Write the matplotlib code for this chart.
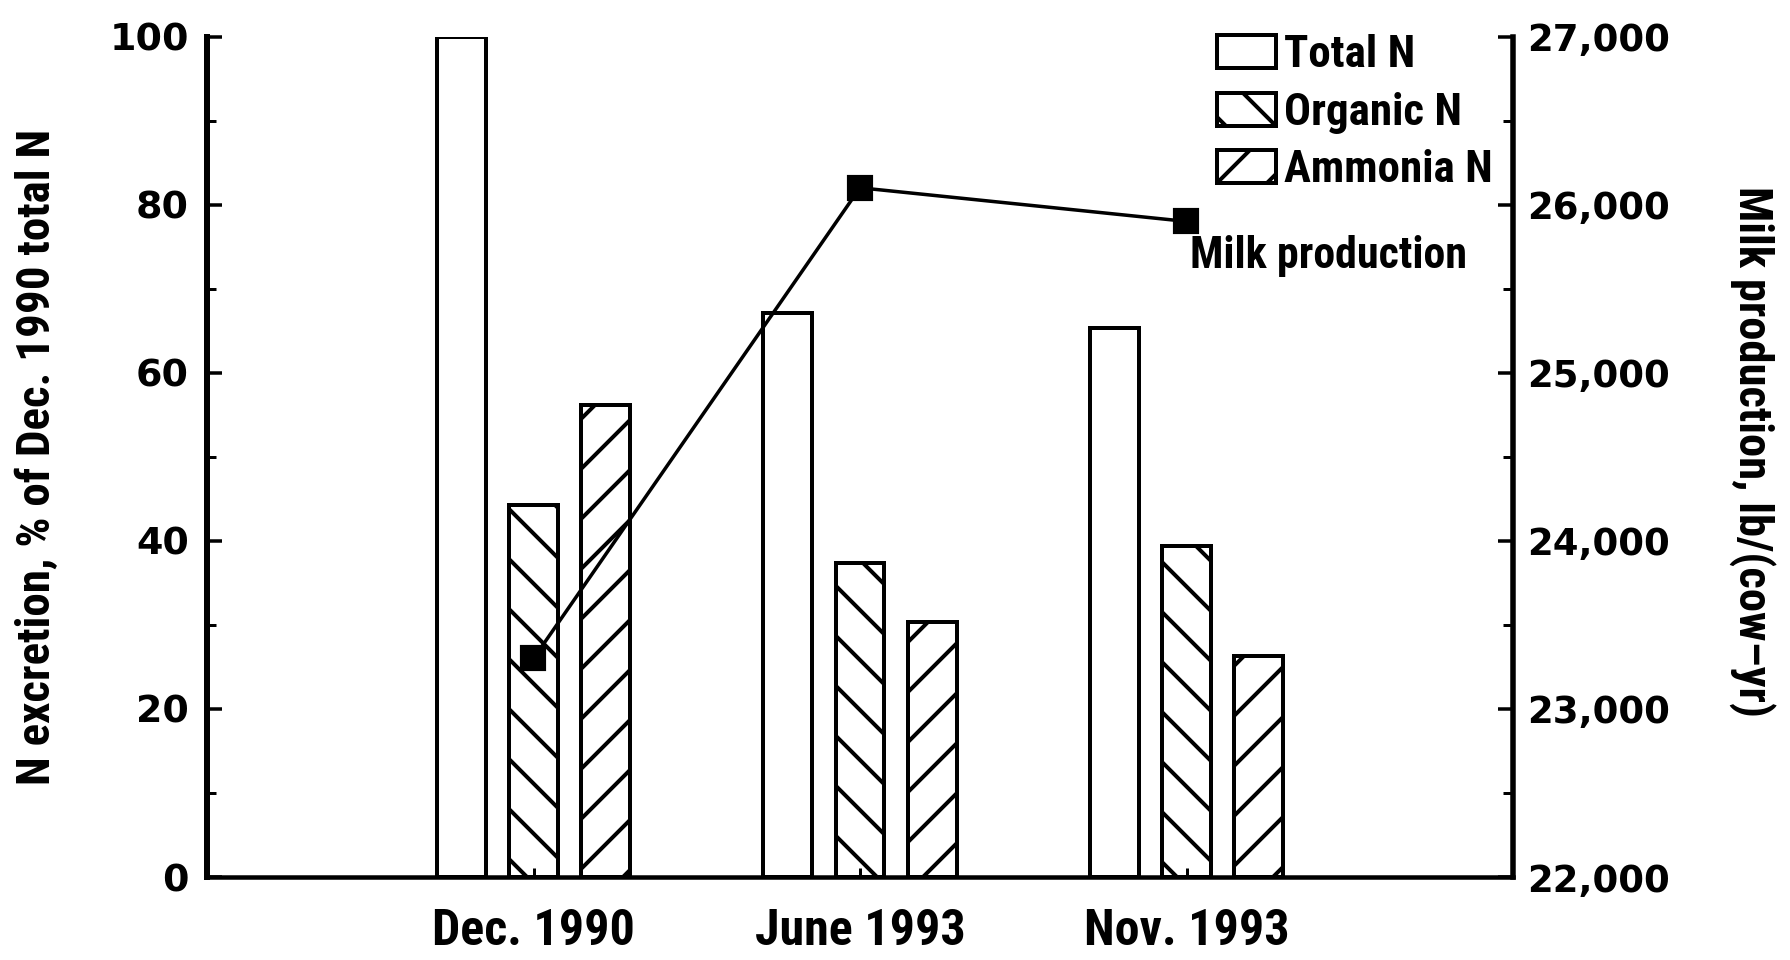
import numpy as np
import matplotlib
matplotlib.use("Agg")
import matplotlib.pyplot as plt
from matplotlib import font_manager as fm
from matplotlib.ticker import MultipleLocator, FuncFormatter

# ---- data ----
categories = ['Dec. 1990', 'June 1993', 'Nov. 1993']
total_n = [100, 67.1, 65.3]
organic_n = [44.2, 37.4, 39.4]
ammonia_n = [56.2, 30.3, 26.3]
milk = [23300, 26100, 25900]
series_labels = ['Total N', 'Organic N', 'Ammonia N']
left_ticks = [0, 20, 40, 60, 80, 100]
right_ticks = [22000, 23000, 24000, 25000, 26000, 27000]

DPI = 300
def P(px):
    return px * 72.0 / DPI

plt.rcParams['hatch.linewidth'] = P(4)
plt.rcParams['hatch.color'] = 'black'

NUM_FONT = 'DejaVu Sans'

# pick a condensed/narrow bold face if one is installed
def _is_bold(f):
    w = f.weight
    if isinstance(w, str):
        return w.lower() in ('bold', 'heavy', 'black', 'demibold', 'semibold', 'extra bold', 'ultrabold')
    return w >= 600

def _narrow(f):
    n = f.name.lower()
    s = str(f.stretch).lower()
    fn = f.fname.lower()
    return ('narrow' in n or 'condensed' in n or 'condensed' in s or 'narrow' in s
            or 'condensed' in fn or 'narrow' in fn)

_cands = [f for f in fm.fontManager.ttflist if _is_bold(f) and _narrow(f)
          and 'italic' not in f.fname.lower() and 'oblique' not in f.fname.lower()]
_pref = ['liberation sans narrow', 'roboto condensed', 'dejavu sans', 'open sans', 'noto sans']
_cands.sort(key=lambda f: next((i for i, p in enumerate(_pref) if p in f.name.lower()), 99))
if _cands:
    def TF(size):
        return fm.FontProperties(fname=_cands[0].fname, size=size)
else:
    def TF(size):
        return fm.FontProperties(family='Liberation Sans', weight='bold', size=size * 0.88)

fig = plt.figure(figsize=(1790 / DPI, 960 / DPI), dpi=DPI)
ax = fig.add_axes([207 / 1790, 1 - 877 / 960, (1513 - 207) / 1790, (877 - 36.5) / 960])

x = np.arange(len(categories))
w = 0.15
off = 0.222
bar_kw = dict(width=w, facecolor='white', edgecolor='black', linewidth=P(4))
b1 = ax.bar(x - off, total_n, label=series_labels[0], **bar_kw)
b2 = ax.bar(x, organic_n, hatch='\\\\', label=series_labels[1], **bar_kw)
b3 = ax.bar(x + off, ammonia_n, hatch='//', label=series_labels[2], **bar_kw)

ax.set_xlim(-1, 3)
ax.set_ylim(0, 100)
ax.set_yticks(left_ticks)
ax.yaxis.set_minor_locator(MultipleLocator(10))
ax.set_xticks(x)
ax.set_xticklabels(categories)
for lab in ax.get_xticklabels():
    lab.set_fontproperties(TF(P(50)))
for lab in ax.get_yticklabels():
    lab.set_fontfamily(NUM_FONT)
    lab.set_fontweight('bold')
    lab.set_fontsize(P(38))
ax.tick_params(axis='y', which='major', direction='in', length=P(15), width=P(3.5), pad=P(18))
ax.tick_params(axis='y', which='minor', direction='in', length=P(9), width=P(3))
ax.tick_params(axis='x', which='major', direction='in', length=P(9), width=P(3), pad=P(31))
for s in ['top', 'right']:
    ax.spines[s].set_visible(False)
ax.spines['left'].set_linewidth(P(6))
ax.spines['bottom'].set_linewidth(P(4.5))

ax2 = ax.twinx()
ax2.set_ylim(22000, 27000)
ax2.set_yticks(right_ticks)
ax2.yaxis.set_minor_locator(MultipleLocator(500))
ax2.yaxis.set_major_formatter(FuncFormatter(lambda v, p: f'{int(v):,}'))
for s in ['top', 'left', 'bottom']:
    ax2.spines[s].set_visible(False)
ax2.spines['right'].set_linewidth(P(5.5))
ax2.tick_params(axis='y', which='major', direction='in', length=P(15), width=P(3.5), pad=P(14), labelsize=P(37))
ax2.tick_params(axis='y', which='minor', direction='in', length=P(10), width=P(3))
for lab in ax2.get_yticklabels():
    lab.set_fontfamily(NUM_FONT)
    lab.set_fontweight('bold')

ax2.plot(x, milk, color='black', linewidth=P(3.5), marker='s', markersize=P(22),
         markerfacecolor='black', markeredgecolor='black')
ax2.annotate('Milk production', xy=(x[2], milk[2]), xytext=(P(4), -P(35)),
             textcoords='offset points', ha='left', va='center',
             fontproperties=TF(P(44)))

leg = ax.legend(handles=[b1, b2, b3], loc='upper left',
                bbox_to_anchor=(1217 / 1790, 1 - 34 / 960), bbox_transform=fig.transFigure,
                frameon=False, borderpad=0, borderaxespad=0,
                handlelength=1.3, handleheight=0.75, handletextpad=0.2, labelspacing=0.35,
                prop=TF(P(45)))

fig.text(37 / 1790, 1 - 457 / 960, 'N excretion, % of Dec. 1990 total N', rotation=90,
         ha='center', va='center', fontproperties=TF(P(47)))
fig.text(1752 / 1790, 1 - 451 / 960, 'Milk production, lb/(cow\u2013yr)', rotation=270,
         ha='center', va='center', fontproperties=TF(P(46.5)))

fig.savefig('out.png', dpi=DPI, facecolor='white')
